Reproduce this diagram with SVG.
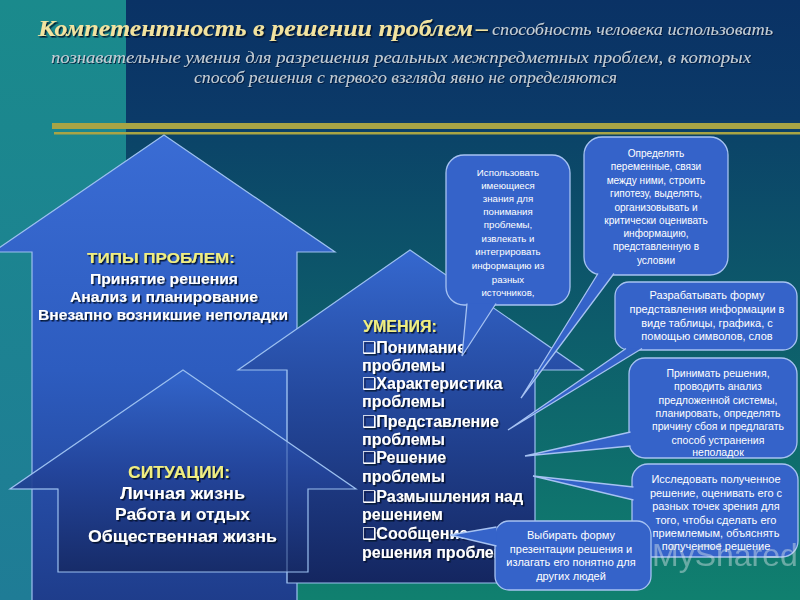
<svg xmlns="http://www.w3.org/2000/svg" width="800" height="600" viewBox="0 0 800 600">
<defs>
<linearGradient id="bgR" x1="0" y1="0" x2="0" y2="1">
<stop offset="0" stop-color="#0a3265"/>
<stop offset="0.2" stop-color="#0b3a68"/>
<stop offset="0.23" stop-color="#0b4468"/>
<stop offset="1" stop-color="#10806f"/>
</linearGradient>
<linearGradient id="bgL" x1="0" y1="0" x2="0" y2="1">
<stop offset="0" stop-color="#1a8a8c"/>
<stop offset="1" stop-color="#1f7c96"/>
</linearGradient>
<linearGradient id="h1" x1="0" y1="0" x2="0" y2="1">
<stop offset="0" stop-color="#3a6cd4"/>
<stop offset="0.5" stop-color="#2d5cbf"/>
<stop offset="1" stop-color="#1e3c8a"/>
</linearGradient>
<linearGradient id="h2" x1="0" y1="0" x2="0" y2="1">
<stop offset="0" stop-color="#3568cf"/>
<stop offset="0.45" stop-color="#24489c"/>
<stop offset="1" stop-color="#142660"/>
</linearGradient>
<linearGradient id="h3" x1="0" y1="0" x2="0" y2="1">
<stop offset="0" stop-color="#3366cc"/>
<stop offset="0.5" stop-color="#23449a"/>
<stop offset="1" stop-color="#162a66"/>
</linearGradient>
<filter id="sh" x="-10%" y="-20%" width="120%" height="150%">
<feDropShadow dx="1.5" dy="1.5" stdDeviation="0.6" flood-color="#000a20" flood-opacity="0.9"/>
</filter>
<filter id="sh2" x="-10%" y="-20%" width="120%" height="150%">
<feDropShadow dx="1" dy="1" stdDeviation="0.5" flood-color="#001030" flood-opacity="0.8"/>
</filter>
</defs>
<style>
.house{stroke:#9cc0f0;stroke-width:1.2}
.ttl{font-family:"Liberation Serif","DejaVu Serif",serif;font-style:italic}
.bold{font-weight:bold;fill:#f2e3a0;font-size:24px}
.sub{fill:#c4ced6;font-size:17px}
.ht{font-family:"Liberation Sans","DejaVu Sans",sans-serif;font-weight:bold;font-size:15.5px;fill:#ffffff;filter:url(#sh)}
.h3t{font-size:17px}
.h2t{font-size:16px}
.yl{fill:#f0ee80}
.bub{fill:#3563c9;stroke:#a6c2f2;stroke-width:1.3}
.bt{font-family:"Liberation Sans","DejaVu Sans",sans-serif;font-size:9.7px;fill:#ffffff;text-anchor:middle}
.tail{fill:#3563c9;stroke:#a6c2f2;stroke-width:1.3;stroke-linejoin:miter}
</style>
<g id="background">
<rect x="0" y="0" width="800" height="600" fill="url(#bgR)"/>
<rect x="0" y="0" width="126" height="600" fill="url(#bgL)"/>
<rect x="52" y="123" width="748" height="6" fill="#a8a445"/>
<rect x="54" y="132" width="746" height="2.5" fill="#a8a445"/>
</g>
<g id="title" class="ttl">
<text x="38" y="36" class="bold" textLength="435" lengthAdjust="spacingAndGlyphs" filter="url(#sh)">Компетентность в решении проблем</text>
<text x="476" y="36" class="bold" filter="url(#sh)">–</text>
<text x="492" y="35" class="sub" textLength="281" lengthAdjust="spacingAndGlyphs" filter="url(#sh2)">способность человека использовать</text>
<text x="51" y="63" class="sub" textLength="700" lengthAdjust="spacingAndGlyphs" filter="url(#sh2)">познавательные умения для разрешения реальных межпредметных проблем, в которых</text>
<text x="194" y="83" class="sub" textLength="423" lengthAdjust="spacingAndGlyphs" filter="url(#sh2)">способ решения с первого взгляда явно не определяются</text>
</g>
<g id="house-problems">
<path class="house" fill="url(#h1)" d="M164,135 L335,252 L297,252 L297,606 L32,606 L32,252 L-7,252 Z"/>
<text class="ht yl" x="87" y="263" textLength="148" lengthAdjust="spacingAndGlyphs">ТИПЫ ПРОБЛЕМ:</text>
<text class="ht" x="90" y="284" textLength="148" lengthAdjust="spacingAndGlyphs">Принятие решения</text>
<text class="ht" x="70" y="302" textLength="188" lengthAdjust="spacingAndGlyphs">Анализ и планирование</text>
<text class="ht" x="38" y="320" textLength="250" lengthAdjust="spacingAndGlyphs">Внезапно возникшие неполадки</text>
</g>
<g id="house-skills">
<path class="house" fill="url(#h2)" d="M410,250 L583,370 L535,370 L535,583 L287,583 L287,370 L238,370 Z"/>
<text class="ht h2t yl" x="363" y="332">УМЕНИЯ:</text>
<text class="ht h2t" x="362" y="353">❑Понимание</text>
<text class="ht h2t" x="362" y="371">проблемы</text>
<text class="ht h2t" x="362" y="389">❑Характеристика</text>
<text class="ht h2t" x="362" y="407">проблемы</text>
<text class="ht h2t" x="362" y="427">❑Представление</text>
<text class="ht h2t" x="362" y="445">проблемы</text>
<text class="ht h2t" x="362" y="463">❑Решение</text>
<text class="ht h2t" x="362" y="482">проблемы</text>
<text class="ht h2t" x="362" y="502">❑Размышления над</text>
<text class="ht h2t" x="362" y="520">решением</text>
<text class="ht h2t" x="362" y="539">❑Сообщение</text>
<text class="ht h2t" x="362" y="558">решения проблем</text>
</g>
<g id="house-situations">
<path class="house" fill="url(#h3)" fill-opacity="0.93" d="M183,370 L356,489 L308,489 L308,572 L58,572 L58,489 L10,489 Z"/>
<text class="ht h3t yl" x="128" y="478" textLength="102" lengthAdjust="spacingAndGlyphs">СИТУАЦИИ:</text>
<text class="ht h3t" x="120" y="499" textLength="125" lengthAdjust="spacingAndGlyphs">Личная жизнь</text>
<text class="ht h3t" x="115" y="520" textLength="135" lengthAdjust="spacingAndGlyphs">Работа и отдых</text>
<text class="ht h3t" x="88" y="542" textLength="189" lengthAdjust="spacingAndGlyphs">Общественная жизнь</text>
</g>
<path d="M287,370 L287,583 M58,489 L10,489" fill="none" stroke="#9cc0f0" stroke-width="1" opacity="0.5"/>
<g id="bubble-a">
<rect class="bub" x="446" y="155" width="124" height="150" rx="18"/>
<text class="bt"><tspan x="508" y="176">Использовать</tspan><tspan x="508" y="189">имеющиеся</tspan><tspan x="508" y="202">знания для</tspan><tspan x="508" y="215">понимания</tspan><tspan x="508" y="228">проблемы,</tspan><tspan x="508" y="242">извлекать и</tspan><tspan x="508" y="255">интегрировать</tspan><tspan x="508" y="269">информацию из</tspan><tspan x="508" y="283">разных</tspan><tspan x="508" y="296">источников,</tspan></text>
</g>
<g id="bubble-b">
<rect class="bub" x="584" y="137" width="144" height="138" rx="18"/>
<text class="bt" style="font-size:10.1px"><tspan x="656" y="157">Определять</tspan><tspan x="656" y="170">переменные,  связи</tspan><tspan x="656" y="184">между ними, строить</tspan><tspan x="656" y="197">гипотезу, выделять,</tspan><tspan x="656" y="211">организовывать и</tspan><tspan x="656" y="224">критически оценивать</tspan><tspan x="656" y="237">информацию,</tspan><tspan x="656" y="250">представленную в</tspan><tspan x="656" y="264">условии</tspan></text>
</g>
<g id="bubble-c">
<rect class="bub" x="615" y="282" width="182" height="68" rx="14"/>
<text class="bt" style="font-size:11px"><tspan x="707" y="299">Разрабатывать форму</tspan><tspan x="707" y="313">представления информации в</tspan><tspan x="707" y="327">виде таблицы,  графика, с</tspan><tspan x="707" y="340">помощью символов, слов</tspan></text>
</g>
<g id="bubble-d">
<rect class="bub" x="629" y="358" width="168" height="100" rx="16"/>
<text class="bt" style="font-size:10.5px"><tspan x="718" y="377">Принимать  решения,</tspan><tspan x="718" y="390">проводить анализ</tspan><tspan x="718" y="404">предложенной системы,</tspan><tspan x="718" y="417">планировать, определять</tspan><tspan x="718" y="430">причину сбоя и предлагать</tspan><tspan x="718" y="444">способ устранения</tspan><tspan x="718" y="456">неполадок</tspan></text>
</g>
<g id="bubble-e">
<rect class="bub" x="632" y="464" width="166" height="93" rx="16"/>
<text class="bt" style="font-size:11px"><tspan x="716" y="483">Исследовать полученное</tspan><tspan x="716" y="497">решение,  оценивать  его с</tspan><tspan x="716" y="510">разных точек зрения  для</tspan><tspan x="716" y="524">того, чтобы сделать его</tspan><tspan x="716" y="537">приемлемым,  объяснять</tspan><tspan x="716" y="550">полученное решение</tspan></text>
</g>
<g id="bubble-f">
<rect class="bub" x="495" y="521" width="156" height="69" rx="14"/>
<text class="bt" style="font-size:11px"><tspan x="571" y="539">Выбирать форму</tspan><tspan x="571" y="553">презентации  решения  и</tspan><tspan x="571" y="566">излагать его понятно для</tspan><tspan x="571" y="580">других людей</tspan></text>
</g>
<g id="connectors">
<path class="tail" d="M467,303.5 L462,356 L496,303.5"/>
<path class="tail" d="M598,273.5 L521,398 L614,273.5"/>
<path class="tail" d="M626,348.5 L508,430 L642,348.5"/>
<path class="tail" d="M630.5,432 L525,456 L630.5,446"/>
<path class="tail" d="M633.5,487 L533,476 L633.5,500"/>
<path class="tail" d="M496.5,527 L450,535 L496.5,546"/>
</g>
<text x="652" y="566" font-family="Liberation Sans, sans-serif" font-size="32" fill="#d8e4e8" opacity="0.45">MyShared</text>
</svg>
